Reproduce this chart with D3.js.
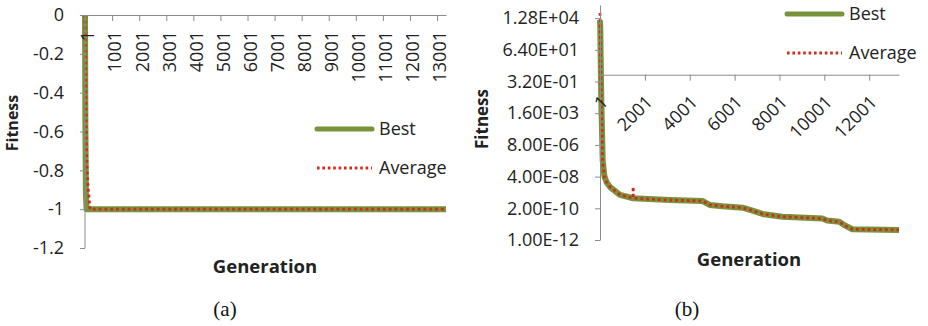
<!DOCTYPE html>
<html>
<head>
<meta charset="utf-8">
<script src="https://cdn.jsdelivr.net/npm/d3@7"></script>
<style>
  body { margin: 0; background: #fff; }
  svg { display: block; }
  .tick text { font-family: "Open Sans", sans-serif; font-size: 18px; fill: #222; }
  .domain, .tick line { stroke: #8c8c8c; }
</style>
</head>
<body>
<div id="chart"></div>
<script>
// chart (a): linear fitness
var genA_best = [1, 15, 35, 60, 13330];
var fitA_best = [0, -0.55, -0.92, -1, -1];
var genA_avg = [1, 20, 35, 50, 80, 110, 150, 185, 13330];
var fitA_avg = [0, -0.2, -0.45, -0.65, -0.8, -0.88, -0.94, -1, -1];
var yTicksA = [0, -0.2, -0.4, -0.6, -0.8, -1, -1.2];
var xTicksA = [1, 1001, 2001, 3001, 4001, 5001, 6001, 7001, 8001, 9001, 10001, 11001, 12001, 13001];

// chart (b): log fitness
var genB_best = [1, 15, 30, 45, 60, 90, 120, 200, 300, 450, 890, 1480, 3110, 4580, 4890, 5470, 6360, 6800, 7245, 8130, 9910, 10130, 10670, 10890, 11250, 13330];
var fitB_best = [9e3, 2e3, 20, 0.5, 1e-2, 1e-4, 6e-7, 4e-8, 1.5e-8, 7e-9, 1.9e-9, 1.07e-9, 7.9e-10, 6.7e-10, 3.5e-10, 2.8e-10, 2.2e-10, 1.35e-10, 7.8e-11, 4.9e-11, 3.6e-11, 2.6e-11, 2.1e-11, 1.2e-11, 6e-12, 5.4e-12];
var genB_avg = [1, 10, 25, 40, 55, 70, 90, 120, 200, 300, 450, 890, 1470, 1480, 1490, 3110, 4580, 4890, 5470, 6360, 6800, 7245, 8130, 9910, 10130, 10670, 10890, 11250, 13330];
var fitB_avg = [3e4, 5e3, 50, 1, 3e-2, 1e-3, 5e-5, 4e-7, 4e-8, 1.5e-8, 7e-9, 1.9e-9, 1.07e-9, 7.5e-9, 1.07e-9, 7.9e-10, 6.7e-10, 3.5e-10, 2.8e-10, 2.2e-10, 1.35e-10, 7.8e-11, 4.9e-11, 3.6e-11, 2.6e-11, 2.1e-11, 1.2e-11, 6e-12, 5.4e-12];
var yTicksB = [1e-12, 2e-10, 4e-8, 8e-6, 1.6e-3, 0.32, 64, 12800];
var yLabelsB = ["1.00E-12", "2.00E-10", "4.00E-08", "8.00E-06", "1.60E-03", "3.20E-01", "6.40E+01", "1.28E+04"];
var xTicksB = [1, 2001, 4001, 6001, 8001, 10001, 12001];

var seriesNames = ["Best", "Average"];
var green = "#77933c", red = "#d42a1e";

var svg = d3.select("#chart").append("svg")
  .attr("width", 928)
  .attr("height", 326);

svg.append("rect").attr("width", 928).attr("height", 326).attr("fill", "#fff");

function zip(xs, ys) {
  return xs.map(function(x, i) { return [x, ys[i]]; });
}

function drawSeries(g, x, y, best, avg) {
  var line = d3.line()
    .x(function(d) { return x(d[0]); })
    .y(function(d) { return y(d[1]); });
  g.append("path")
    .attr("d", line(best))
    .attr("fill", "none")
    .attr("stroke", green)
    .attr("stroke-width", 6)
    .attr("stroke-linejoin", "round");
  g.append("path")
    .attr("d", line(avg))
    .attr("fill", "none")
    .attr("stroke", red)
    .attr("stroke-width", 2.8)
    .attr("stroke-dasharray", "2.8,3");
}

function drawLegend(g, lx, ly) {
  var item = g.selectAll("g.leg")
    .data(seriesNames)
    .enter()
    .append("g")
    .attr("class", "leg")
    .attr("transform", function(d, i) { return "translate(" + lx + "," + (ly + i * 39) + ")"; });
  item.append("line")
    .attr("x1", 0).attr("x2", 55)
    .attr("stroke", function(d, i) { return i == 0 ? green : red; })
    .attr("stroke-width", function(d, i) { return i == 0 ? 5 : 2.8; })
    .attr("stroke-linecap", function(d, i) { return i == 0 ? "round" : "butt"; })
    .attr("stroke-dasharray", function(d, i) { return i == 0 ? null : "2.6,2.8"; });
  item.append("text")
    .text(function(d) { return d; })
    .attr("x", 62)
    .attr("dy", "0.35em")
    .style("font-family", "Open Sans, sans-serif")
    .style("font-size", "18px")
    .style("fill", "#222");
}

function title(text, x, y, size, rot) {
  svg.append("text")
    .text(text)
    .attr("transform", "translate(" + x + "," + y + ")" + (rot ? " rotate(-90)" : ""))
    .attr("text-anchor", "middle")
    .style("font-family", "Open Sans, sans-serif")
    .style("font-weight", "bold")
    .style("font-size", size + "px")
    .style("fill", "#222");
}

function caption(text, x) {
  svg.append("text")
    .text(text)
    .attr("x", x).attr("y", 316)
    .attr("text-anchor", "middle")
    .style("font-family", "Liberation Serif, serif")
    .style("font-size", "21px")
    .style("fill", "#111");
}

// ---- chart (a)
var xA = d3.scaleLinear().domain([1, 13330]).range([85, 446]);
var yA = d3.scaleLinear().domain([-1.2, 0]).range([248, 15]);
var gA = svg.append("g");

// lines first, Excel paints the axis labels over them
drawSeries(gA, xA, yA, zip(genA_best, fitA_best), zip(genA_avg, fitA_avg));

gA.append("g")
  .attr("transform", "translate(85,0)")
  .call(d3.axisLeft(yA).tickValues(yTicksA).tickSize(5).tickPadding(16)
    .tickFormat(function(d) { return String(+d.toFixed(1)); }))
  .call(function(a) { a.select(".domain").attr("d", "M0," + yA(-1.2) + "V" + yA(0)); });

var axA = gA.append("g")
  .attr("transform", "translate(0," + yA(0) + ")")
  .call(d3.axisBottom(xA).tickValues(xTicksA).tickSize(6).tickSizeOuter(0)
    .tickFormat(function(d) { return String(d); }));
axA.selectAll(".tick text")
  .attr("transform", "translate(2,16) rotate(-90)")
  .attr("text-anchor", "end")
  .attr("x", 0).attr("y", 0)
  .attr("dy", "0.38em");

drawLegend(gA, 317, 129);
title("Fitness", 18, 123, 16, true);
title("Generation", 265, 273, 18.5, false);
caption("(a)", 225);

// ---- chart (b)
var xB = d3.scaleLinear().domain([1, 13330]).range([600, 899]);
var yB = d3.scaleLog().base(200).domain([1e-12, 1.15e5]).range([240, 5]);
var gB = svg.append("g");

drawSeries(gB, xB, yB, zip(genB_best, fitB_best), zip(genB_avg, fitB_avg));

gB.append("g")
  .attr("transform", "translate(600,0)")
  .call(d3.axisLeft(yB).tickValues(yTicksB).tickSize(5).tickSizeOuter(0).tickPadding(16)
    .tickFormat(function(d, i) { return yLabelsB[i]; }));

var axB = gB.append("g")
  .attr("transform", "translate(0," + yB(1) + ")")
  .call(d3.axisBottom(xB).tickValues(xTicksB).tickSize(6).tickSizeOuter(0)
    .tickFormat(function(d) { return String(d); }));
axB.selectAll(".tick text")
  .attr("transform", "translate(4,24) rotate(-45)")
  .attr("text-anchor", "end")
  .attr("x", 0).attr("y", 0)
  .attr("dy", "0.35em");

drawLegend(gB, 787, 14);
title("Fitness", 488, 119, 17, true);
title("Generation", 749, 266, 18.5, false);
caption("(b)", 687);
</script>
</body>
</html>
